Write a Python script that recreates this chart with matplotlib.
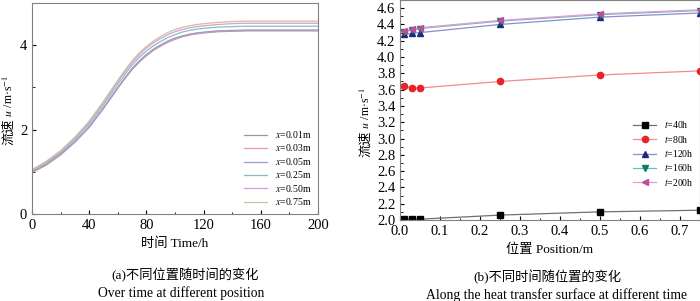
import matplotlib
matplotlib.use('Agg')
import matplotlib.pyplot as plt
from matplotlib.ticker import MultipleLocator

plt.rcParams['font.family'] = ['Liberation Serif', 'Noto Sans CJK SC']
plt.rcParams['mathtext.fontset'] = 'stix'

# (a) velocity over time at different positions
time_h = [0, 10, 20, 30, 40, 50, 60, 65, 70, 75, 80, 85, 90, 95, 100, 105, 110, 115, 120,
          130, 140, 150, 160, 170, 180, 190, 200]
u_x001 = [0.98, 1.16, 1.40, 1.70, 2.05, 2.50, 2.98, 3.21, 3.42, 3.60, 3.75, 3.88, 3.98, 4.07, 4.14, 4.20, 4.24, 4.27, 4.29,
          4.32, 4.33, 4.34, 4.34, 4.34, 4.34, 4.34, 4.34]
u_x003 = [0.99, 1.17, 1.41, 1.71, 2.06, 2.51, 2.99, 3.22, 3.43, 3.61, 3.76, 3.89, 3.99, 4.08, 4.15, 4.21, 4.25, 4.28, 4.30,
          4.33, 4.34, 4.35, 4.35, 4.35, 4.35, 4.35, 4.35]
u_x005 = [1.00, 1.18, 1.42, 1.72, 2.07, 2.52, 3.00, 3.23, 3.45, 3.63, 3.78, 3.91, 4.01, 4.10, 4.17, 4.22, 4.26, 4.29, 4.31,
          4.34, 4.35, 4.36, 4.36, 4.36, 4.36, 4.36, 4.36]
u_x025 = [1.02, 1.21, 1.45, 1.77, 2.13, 2.59, 3.08, 3.31, 3.53, 3.71, 3.86, 3.99, 4.09, 4.18, 4.25, 4.31, 4.35, 4.38, 4.40,
          4.43, 4.44, 4.45, 4.45, 4.45, 4.45, 4.45, 4.45]
u_x050 = [1.04, 1.23, 1.48, 1.80, 2.17, 2.64, 3.14, 3.37, 3.59, 3.77, 3.93, 4.06, 4.16, 4.25, 4.32, 4.37, 4.41, 4.44, 4.46,
          4.49, 4.51, 4.52, 4.52, 4.52, 4.52, 4.52, 4.52]
u_x075 = [1.05, 1.25, 1.50, 1.82, 2.20, 2.67, 3.17, 3.41, 3.63, 3.82, 3.97, 4.10, 4.21, 4.30, 4.37, 4.42, 4.46, 4.49, 4.51,
          4.54, 4.56, 4.57, 4.57, 4.57, 4.57, 4.57, 4.57]
pos_labels = ['0.01m', '0.03m', '0.05m', '0.25m', '0.50m', '0.75m']

# (b) velocity along position at different times
position_m = [0.01, 0.03, 0.05, 0.25, 0.50, 0.75]
u_t40 = [2.01, 2.01, 2.01, 2.06, 2.10, 2.12]
u_t80 = [3.64, 3.62, 3.62, 3.70, 3.78, 3.83]
u_t120 = [4.28, 4.29, 4.30, 4.40, 4.49, 4.54]
u_t160 = [4.31, 4.33, 4.35, 4.44, 4.52, 4.57]
u_t200 = [4.32, 4.34, 4.36, 4.45, 4.53, 4.58]
time_labels = ['40h', '80h', '120h', '160h', '200h']

W, H = 700, 301
fig = plt.figure(figsize=(7, 3.01), dpi=100)
ax1 = fig.add_axes([32/W, 1-214/H, 286/W, 211/H])
ax2 = fig.add_axes([400/W, 1-220/H, 300/W, 220/H])

# left panel
left_colors = ['#9a9a9a', '#f29a9a', '#9a9ad6', '#7fc4bc', '#e09ad6', '#cdbf9f']
for vals, lab, c in zip([u_x001, u_x003, u_x005, u_x025, u_x050, u_x075], pos_labels, left_colors):
    ax1.plot(time_h, vals, color=c, lw=0.9, label=r'$x$=' + lab)
ax1.set_xlim(0, 200)
ax1.set_ylim(0, 5)
ax1.xaxis.set_major_locator(MultipleLocator(40))
ax1.xaxis.set_minor_locator(MultipleLocator(20))
ax1.yaxis.set_major_locator(MultipleLocator(2))
ax1.yaxis.set_minor_locator(MultipleLocator(1))
ax1.set_xlabel('时间 Time/h', fontsize=9.5, labelpad=4)
ax1.legend(loc='lower right', frameon=False, fontsize=7, handlelength=2.3,
           labelspacing=0.25, borderaxespad=0.3, bbox_to_anchor=(1.0, 0.0))

# right panel
styles = [('#707070', 'black', 's'),
          ('#f08c8c', '#e8232a', 'o'),
          ('#8c8cd0', '#1f2a7c', '^'),
          ('#6fbfb4', '#127a6a', 'v'),
          ('#e49ad8', '#b8509c', '<')]
for vals, lab, (lc, mc, mk) in zip([u_t40, u_t80, u_t120, u_t160, u_t200], time_labels, styles):
    ax2.plot(position_m, vals, color=lc, lw=0.9, marker=mk, markersize=4.5,
             markerfacecolor=mc, markeredgecolor=mc, label=r'$t$=' + lab)
ax2.set_xlim(0, 0.75)
ax2.set_ylim(2.0, 4.7)
ax2.xaxis.set_major_locator(MultipleLocator(0.1))
ax2.xaxis.set_minor_locator(MultipleLocator(0.05))
ax2.yaxis.set_major_locator(MultipleLocator(0.2))
ax2.yaxis.set_minor_locator(MultipleLocator(0.1))
ax2.xaxis.set_major_formatter(plt.FuncFormatter(lambda v, p: f'{v:.1f}'))
ax2.yaxis.set_major_formatter(plt.FuncFormatter(lambda v, p: f'{v:.1f}'))
ax2.set_xlabel('位置 Position/m', fontsize=9.5, labelpad=4)
ax2.legend(loc='lower right', frameon=False, fontsize=7, handlelength=2.3,
           labelspacing=0.35, borderaxespad=0.3, bbox_to_anchor=(1.0, 0.115))

for ax in (ax1, ax2):
    ax.tick_params(which='both', direction='in', top=False, right=False, labelsize=10.5)
    ax.tick_params(which='major', length=3)
    ax.tick_params(which='minor', length=1.8)
    for s in ax.spines.values():
        s.set_color('#808080')
        s.set_linewidth(0.8)

# y labels: CJK part and math part drawn as two texts (mathtext has no CJK glyphs)
renderer = fig.canvas.get_renderer()


def ylabel_split(xc, yc):
    t1 = fig.text(xc/W, 0, '流速', rotation=90, ha='center', va='bottom', fontsize=9.5)
    t2 = fig.text(xc/W, 0, r' $u$ /m·s$^{-1}$', rotation=90, ha='center', va='bottom', fontsize=8.5)
    h1 = t1.get_window_extent(renderer).height
    h2 = t2.get_window_extent(renderer).height
    y0 = (H - yc) - (h1 + h2) / 2
    t1.set_y(y0/H)
    t2.set_y((y0 + h1)/H)


ylabel_split(9, 110)
ylabel_split(366, 122)

# captions
fig.text(185/W, 1-275/H, '(a)不同位置随时间的变化', ha='center', va='center', fontsize=9.5)
fig.text(181/W, 1-293/H, 'Over time at different position', ha='center', va='center', fontsize=9.8)
fig.text(547/W, 1-277/H, '(b)不同时间随位置的变化', ha='center', va='center', fontsize=9.5)
fig.text(557/W, 1-295/H, 'Along the heat transfer surface at different time', ha='center', va='center', fontsize=9.8)

fig.savefig('out.png', dpi=100)
